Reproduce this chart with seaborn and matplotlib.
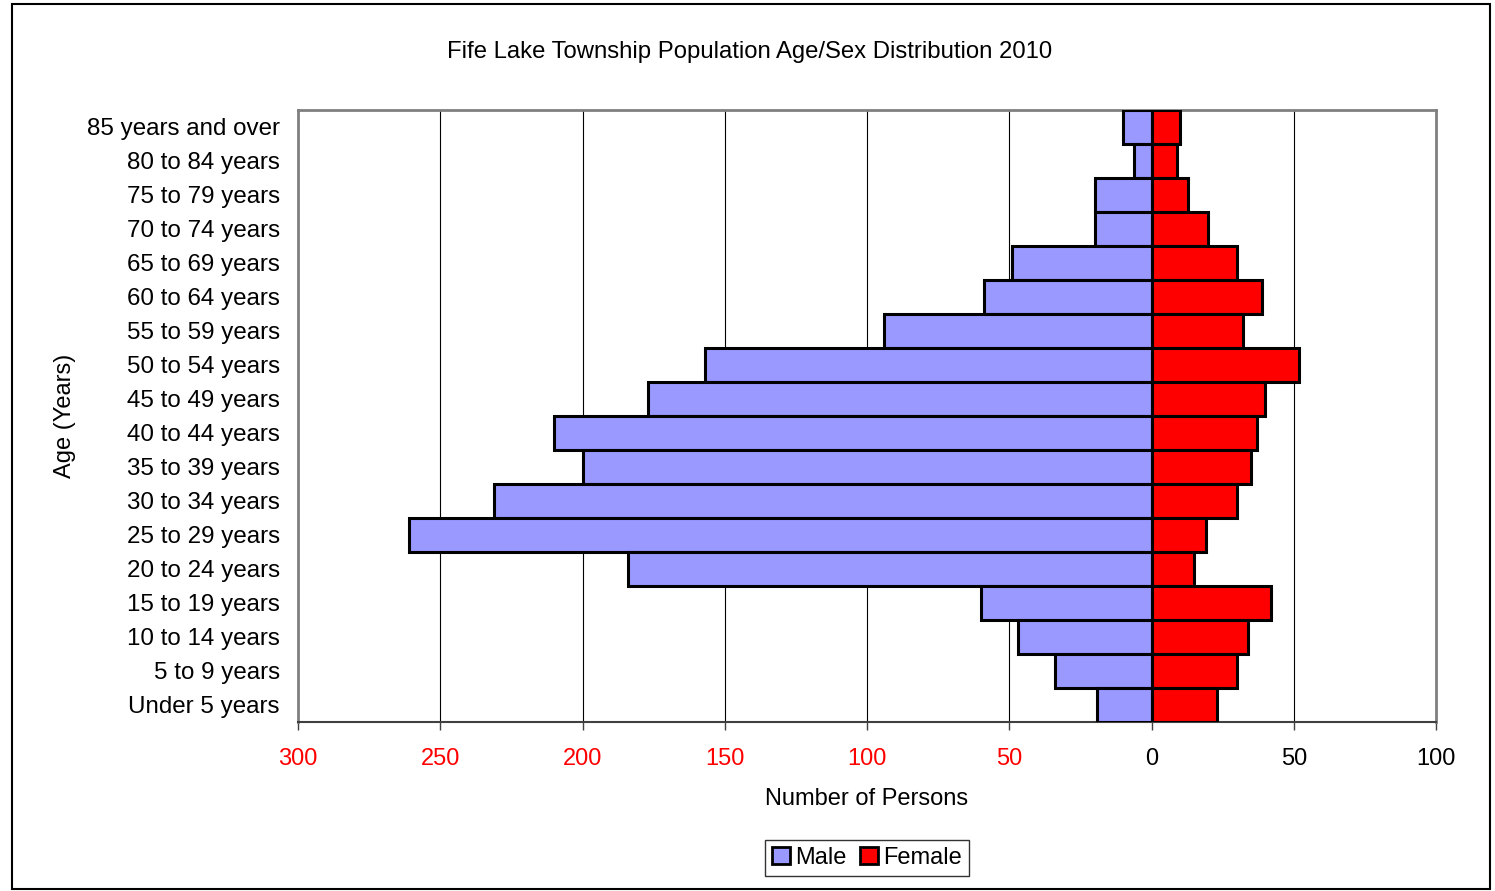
import matplotlib
matplotlib.use("Agg")
import matplotlib.pyplot as plt
import matplotlib.patches as mpatches
import seaborn as sns
import pandas as pd

ages = ["85 years and over", "80 to 84 years", "75 to 79 years", "70 to 74 years",
        "65 to 69 years", "60 to 64 years", "55 to 59 years", "50 to 54 years",
        "45 to 49 years", "40 to 44 years", "35 to 39 years", "30 to 34 years",
        "25 to 29 years", "20 to 24 years", "15 to 19 years", "10 to 14 years",
        "5 to 9 years", "Under 5 years"]
male = [10, 6, 20, 20, 49, 59, 94, 157, 177, 210, 200, 231, 261, 184, 60, 47, 34, 19]
female = [10, 9, 13, 20, 30, 39, 32, 52, 40, 37, 35, 30, 19, 15, 42, 34, 30, 23]
xticks = [-300, -250, -200, -150, -100, -50, 0, 50, 100]

df = pd.DataFrame({
    "age": ages * 2,
    "persons": [-m for m in male] + female,
    "sex": ["Male"] * len(ages) + ["Female"] * len(ages),
})

sns.set_style("white")
plt.rcParams["font.family"] = ["Liberation Sans", "DejaVu Sans"]
plt.rcParams["text.color"] = "black"
plt.rcParams["axes.labelcolor"] = "black"
plt.rcParams["xtick.color"] = "black"
plt.rcParams["ytick.color"] = "black"

fig = plt.figure(figsize=(14.95, 8.91), dpi=100)
ax = fig.add_axes([298 / 1495, 1 - 722 / 891, (1436 - 298) / 1495, (722 - 110) / 891])

sns.barplot(data=df, x="persons", y="age", hue="sex", order=ages, orient="h",
            dodge=False, width=1.0, saturation=1,
            palette={"Male": "#9999ff", "Female": "#ff0000"},
            edgecolor="black", linewidth=2.2, ax=ax, zorder=3, legend=False)

ax.set_xlim(-300, 100)
ax.set_ylim(len(ages) - 0.5, -0.5)
ax.set_xticks(xticks)
ax.set_xticklabels([str(abs(t)) for t in xticks], fontsize=17)
for t, lab in zip(xticks, ax.get_xticklabels()):
    lab.set_color("red" if t < 0 else "black")
ax.tick_params(axis="x", direction="out", length=6, width=1, color="#404040", pad=13, bottom=True)
ax.tick_params(axis="y", length=0, labelsize=17.4, pad=13)
ax.grid(axis="x", color="black", linewidth=0.8, zorder=0)
ax.set_axisbelow(True)

for s in ["top", "right", "left"]:
    ax.spines[s].set_color("#808080")
    ax.spines[s].set_linewidth(2)
ax.spines["bottom"].set_color("#404040")
ax.spines["bottom"].set_linewidth(1.5)

ax.set_xlabel("Number of Persons", fontsize=17, labelpad=13)
ax.set_ylabel("Age (Years)", fontsize=17, labelpad=8)

fig.text(0.5015, 1 - 52 / 891, "Fife Lake Township Population Age/Sex Distribution 2010",
         ha="center", va="center", fontsize=17.2)

handles = [mpatches.Patch(facecolor="#9999ff", edgecolor="black", linewidth=2, label="Male"),
           mpatches.Patch(facecolor="#ff0000", edgecolor="black", linewidth=2, label="Female")]
fig.legend(handles=handles, loc="center", bbox_to_anchor=(867 / 1495, 1 - 858 / 891), ncol=2,
           fontsize=17, frameon=True, fancybox=False, edgecolor="black", handlelength=0.75,
           handleheight=0.75, handletextpad=0.2, columnspacing=0.6, borderpad=0.3)

fig.patches.append(mpatches.Rectangle((12 / 1495, 2 / 891), 1478 / 1495, 885 / 891,
                                      transform=fig.transFigure, fill=False,
                                      edgecolor="black", linewidth=1.5))

fig.savefig("out.png", dpi=100)
